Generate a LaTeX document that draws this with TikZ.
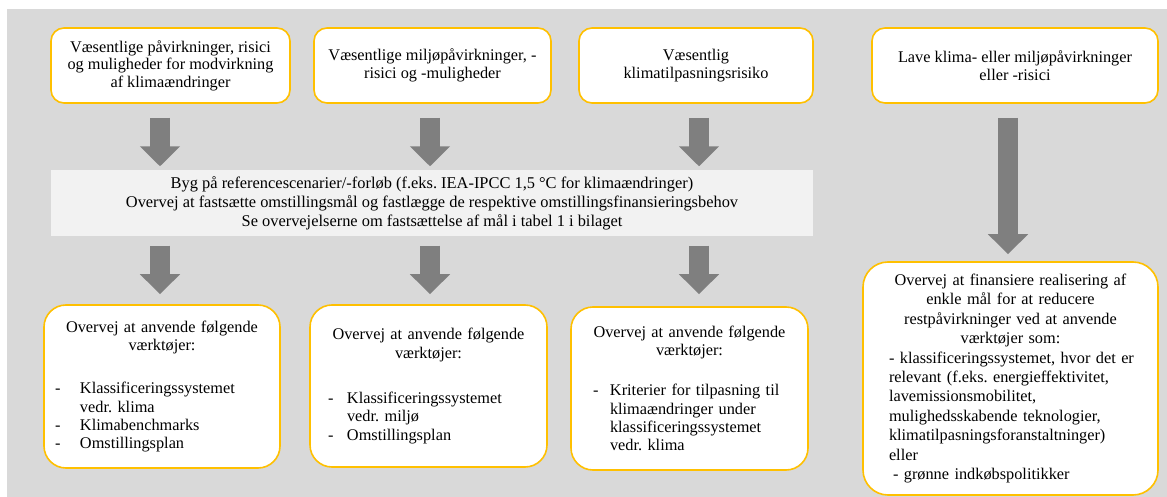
\documentclass[tikz,border=0pt]{standalone}
\usepackage{fontspec}
\setmainfont{Liberation Serif}
\usetikzlibrary{arrows.meta,calc}
\definecolor{bggrey}{HTML}{D9D9D9}
\definecolor{bandgrey}{HTML}{F2F2F2}
\definecolor{gold}{HTML}{FFC000}
\definecolor{arrowgrey}{HTML}{7F7F7F}
\newlength\dashind
\newlength\txtind
\newcommand\clines[1]{{\centering #1\par}}
\newcommand\litem[1]{\par\noindent\hangindent=\txtind\hangafter=1\rightskip=0pt plus 1fil\makebox[\txtind][l]{\hspace*{\dashind}-}#1\par}
\frenchspacing
\begin{document}
\begin{tikzpicture}[x=1pt,y=-1pt,
  txt/.style={font=\fontsize{16.3}{18.3}\selectfont},
  topbox/.style={font=\fontsize{16.3}{17.6}\selectfont, draw=gold, line width=1.6pt, fill=white, rounded corners=13pt,
    minimum height=75pt, align=center, inner sep=0pt},
  botbox/.style={txt, draw=gold, line width=1.6pt, fill=white, rounded corners=22pt,
    inner xsep=0pt, inner ysep=0pt},
  band/.style={font=\fontsize{16.4}{19}\selectfont, fill=bandgrey, minimum width=762pt, minimum height=65pt, align=center, inner sep=0pt},
  bigarrow/.style={draw=arrowgrey, line width=20pt, -{Triangle[width=39pt,length=20pt]}}
]
\useasboundingbox (0,0) rectangle (1167,497);
\fill[bggrey] (7,9) rectangle (1167,497);

% top row
\node[topbox, minimum width=239pt] (t1) at (170.5,65.5)
  {Væsentlige påvirkninger, risici\\og muligheder for modvirkning\\af klimaændringer};
\node[topbox, minimum width=237pt] (t2) at (432.5,65.5)
  {Væsentlige miljøpåvirkninger, -\\risici og -muligheder};
\node[topbox, minimum width=234pt] (t3) at (696,65.5)
  {Væsentlig\\klimatilpasningsrisiko};
\node[topbox, minimum width=286pt] (t4) at (1015,65.5)
  {Lave klima- eller miljøpåvirkninger\\eller -risici};

% band
\node[band] (band) at (432,203)
  {Byg på referencescenarier/-forløb (f.eks. IEA-IPCC 1,5 °C for klimaændringer)\\
   Overvej at fastsætte omstillingsmål og fastlægge de respektive omstillingsfinansieringsbehov\\
   Se overvejelserne om fastsættelse af mål i tabel 1 i bilaget};

% bottom row
\node[botbox, text width=236pt, minimum height=163pt] (b1) at (162,386.5)
  {\setlength\dashind{11pt}\setlength\txtind{36pt}%
   \clines{Overvej at anvende følgende\\værktøjer:}\vspace{25pt}%
   \litem{Klassificeringssystemet\newline vedr. klima}%
   \litem{Klimabenchmarks}%
   \litem{Omstillingsplan}};
\node[botbox, text width=237pt, minimum height=162pt] (b2) at (428.5,386)
  {\setlength\dashind{18pt}\setlength\txtind{37pt}%
   \clines{Overvej at anvende følgende\\værktøjer:}\vspace{27pt}%
   \litem{Klassificeringssystemet\newline vedr. miljø}%
   \litem{Omstillingsplan}};
\node[botbox, text width=237pt, minimum height=163pt] (b3) at (689.5,388.5)
  {\setlength\dashind{22pt}\setlength\txtind{39pt}%
   \clines{Overvej at anvende følgende\\værktøjer:}\vspace{22pt}%
   \litem{Kriterier for tilpasning til\newline klimaændringer under\newline klassificeringssystemet\newline vedr. klima}};
\node[botbox, text width=295pt, minimum height=233pt, rounded corners=25pt,
      font=\fontsize{16.3}{19.4}\selectfont] (b4) at (1010.5,378.5)
  {\clines{Overvej at finansiere realisering af\\enkle mål for at reducere\\restpåvirkninger ved at anvende\\værktøjer som:}%
   \noindent\leftskip=26pt\rightskip=0pt plus 1fil
   - klassificeringssystemet, hvor det er\newline
   relevant (f.eks. energieffektivitet,\newline
   lavemissionsmobilitet,\newline
   mulighedsskabende teknologier,\newline
   klimatilpasningsforanstaltninger)\newline
   eller\newline
   \hspace*{4pt}- grønne indkøbspolitikker\par};

% arrow axes
\coordinate (ax1) at (160,0);
\coordinate (ax2) at (430,0);
\coordinate (ax3) at (699,0);
\coordinate (ax4) at (1008,0);

\draw[bigarrow, shorten <=14pt, shorten >=4pt] (t1.south -| ax1) -- (band.north -| ax1);
\draw[bigarrow, shorten <=14pt, shorten >=4pt] (t2.south -| ax2) -- (band.north -| ax2);
\draw[bigarrow, shorten <=14pt, shorten >=4pt] (t3.south -| ax3) -- (band.north -| ax3);
\draw[bigarrow, shorten <=10pt, shorten >=10pt] (band.south -| ax1) -- (b1.north -| ax1);
\draw[bigarrow, shorten <=10pt, shorten >=10pt] (band.south -| ax2) -- (b2.north -| ax2);
\draw[bigarrow, shorten <=10pt, shorten >=12pt] (band.south -| ax3) -- (b3.north -| ax3);
\draw[bigarrow, shorten <=14pt, shorten >=7pt] (t4.south -| ax4) -- (b4.north -| ax4);
\end{tikzpicture}
\end{document}
